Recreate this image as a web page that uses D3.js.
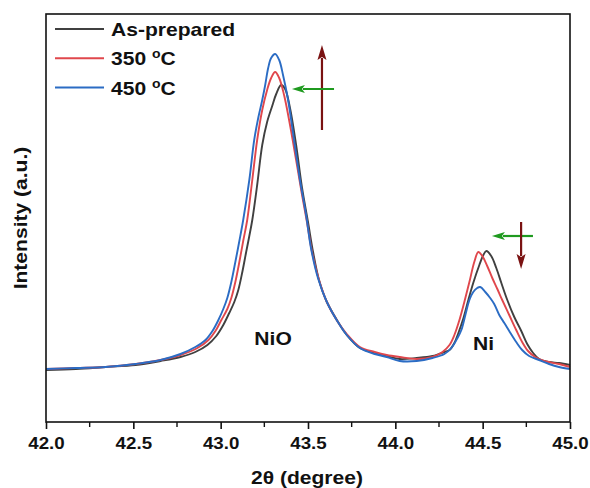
<!DOCTYPE html>
<html>
<head>
<meta charset="utf-8">
<script src="https://cdn.jsdelivr.net/npm/d3@7"></script>
<style>
  body { margin: 0; background: #fff; }
  text { font-family: "Liberation Sans", Arial, sans-serif; font-weight: bold; fill: #111; }
</style>
</head>
<body>
<div id="chart"></div>
<script>
// 2θ (degree), intensity (a.u.)
var asPrepared = [
  [42.000,570],[42.171,580],[42.342,600],[42.513,620],[42.656,660],[42.770,700],[42.855,750],
  [42.924,820],[42.975,910],[43.015,1020],[43.049,1140],[43.078,1250],[43.101,1370],[43.124,1550],
  [43.146,1750],[43.164,1910],[43.181,2070],
  [43.209,2420],[43.238,2820],[43.266,3050],[43.295,3210],[43.318,3330],[43.346,3420],[43.369,3380],
  [43.397,3190],[43.432,2820],[43.466,2390],[43.500,2050],[43.529,1750],[43.563,1470],[43.608,1250],
  [43.683,1020],[43.722,920],[43.797,790],[43.882,740],[43.951,710],[44.025,680],[44.122,690],
  [44.213,710],[44.281,750],[44.310,770],[44.338,840],[44.361,940],[44.390,1090],[44.418,1270],
  [44.446,1440],[44.481,1620],[44.504,1720],[44.521,1760],[44.549,1710],[44.578,1590],[44.607,1440],
  [44.641,1270],[44.681,1100],[44.721,960],[44.755,830],[44.789,740],[44.823,680],[44.880,650],
  [44.937,640],[45.000,620]
];
var annealed350 = [
  [42.000,580],[42.171,590],[42.342,600],[42.513,630],[42.656,670],[42.770,720],[42.867,790],
  [42.930,870],[42.970,960],[43.004,1070],[43.038,1180],[43.061,1290],[43.084,1450],[43.107,1650],
  [43.129,1860],[43.152,2070],
  [43.181,2470],[43.209,2870],[43.238,3170],[43.266,3370],[43.289,3490],[43.312,3550],[43.335,3490],
  [43.363,3320],[43.397,3020],[43.432,2670],[43.466,2320],[43.494,2050],[43.523,1750],[43.563,1470],
  [43.608,1250],[43.671,1050],[43.722,930],[43.797,800],[43.882,750],[43.951,720],[44.025,700],
  [44.122,680],[44.213,700],[44.270,750],[44.310,820],[44.338,920],[44.367,1070],[44.395,1250],
  [44.424,1450],[44.452,1650],[44.475,1750],[44.498,1710],[44.526,1610],[44.555,1490],[44.584,1380],
  [44.612,1270],[44.652,1120],[44.692,970],[44.726,850],[44.760,760],[44.800,700],[44.852,660],
  [44.937,630],[45.000,600]
];
var annealed450 = [
  [42.000,580],[42.171,590],[42.342,600],[42.513,630],[42.656,670],[42.770,730],[42.855,800],
  [42.913,870],[42.953,960],[42.987,1070],[43.015,1180],[43.038,1290],[43.061,1450],[43.084,1650],
  [43.107,1860],[43.129,2070],
  [43.164,2470],[43.192,2870],[43.215,3090],[43.238,3270],[43.255,3420],[43.272,3590],[43.289,3690],
  [43.312,3730],[43.335,3670],[43.357,3520],[43.386,3270],[43.420,2870],[43.454,2470],[43.489,2120],
  [43.517,1790],[43.557,1490],[43.608,1250],[43.671,1050],[43.722,920],[43.797,790],[43.882,730],
  [43.951,700],[44.025,660],[44.122,660],[44.213,690],[44.281,730],[44.321,790],[44.356,890],
  [44.378,970],[44.401,1120],[44.424,1270],[44.446,1350],[44.469,1390],[44.486,1400],[44.515,1350],
  [44.543,1290],[44.566,1230],[44.595,1120],[44.624,1040],[44.652,960],[44.692,850],[44.726,770],
  [44.766,710],[44.823,670],[44.880,630],[44.937,600],[45.000,580]
];

var seriesNames = ["As-prepared", "350", "450"];
var seriesColors = ["#404040", "#e0474c", "#2b6cc4"];
var majorTicks = [42.0, 42.5, 43.0, 43.5, 44.0, 44.5, 45.0];
var minorTicks = [42.25, 42.75, 43.25, 43.75, 44.25, 44.75];

var width = 590, height = 488;
var plotLeft = 46, plotRight = 570, plotTop = 14, plotBottom = 422;
var sx = 1.17; // glyphs in the figure are a bit wider than Arial

var svg = d3.select("#chart").append("svg")
    .attr("width", width)
    .attr("height", height);

var x = d3.scaleLinear().domain([42, 45]).range([plotLeft, plotRight]);
var y = d3.scaleLinear().domain([50, 4130]).range([plotBottom, plotTop]);

var line = d3.line()
    .x(function(d){ return x(d[0]); })
    .y(function(d){ return y(d[1]); })
    .curve(d3.curveCatmullRom);

var allSeries = [asPrepared, annealed350, annealed450];

svg.append("g")
    .selectAll("path")
    .data(allSeries)
    .enter()
        .append("path")
        .attr("d", function(d){ return line(d); })
        .attr("fill", "none")
        .attr("stroke", function(d, i){ return seriesColors[i]; })
        .attr("stroke-width", 1.9)
        .attr("stroke-linejoin", "round");

// frame
svg.append("rect")
    .attr("x", plotLeft).attr("y", plotTop)
    .attr("width", plotRight - plotLeft).attr("height", plotBottom - plotTop)
    .attr("fill", "none")
    .attr("stroke", "#111")
    .attr("stroke-width", 1.6);

// bottom axis
var xAxis = svg.append("g")
    .attr("transform", "translate(0," + plotBottom + ")")
    .call(d3.axisBottom(x).tickValues(majorTicks).tickFormat(d3.format(".1f"))
        .tickSize(7).tickPadding(9));
xAxis.select(".domain").remove();
xAxis.selectAll("line").attr("stroke", "#111").attr("stroke-width", 1.6);
xAxis.selectAll("text")
    .attr("font-size", 16)
    .attr("font-family", "Liberation Sans, Arial, sans-serif")
    .attr("font-weight", "bold")
    .attr("fill", "#111")
    .attr("transform", "scale(" + sx + ",1)");

svg.append("g")
    .selectAll("line")
    .data(minorTicks)
    .enter()
        .append("line")
        .attr("x1", function(d){ return x(d); })
        .attr("x2", function(d){ return x(d); })
        .attr("y1", plotBottom)
        .attr("y2", plotBottom + 5)
        .attr("stroke", "#111")
        .attr("stroke-width", 1.4);

function label(px, py, str, size, rot) {
    return svg.append("text")
        .attr("transform", "translate(" + px + "," + py + ")" + (rot ? " rotate(" + rot + ")" : "") + " scale(" + sx + ",1)")
        .attr("text-anchor", "middle")
        .attr("font-size", size)
        .text(str);
}

label(307, 484, "2θ (degree)", 18);
label(27, 218, "Intensity (a.u.)", 18, -90);

label(x(43.30), y(820), "NiO", 18);
label(x(44.505), y(770), "Ni", 18);

// legend
var legend = svg.append("g");
seriesNames.forEach(function(name, i){
    var ly = 29 + i * 29.3;
    legend.append("line")
        .attr("x1", 55).attr("x2", 104)
        .attr("y1", ly).attr("y2", ly)
        .attr("stroke", seriesColors[i])
        .attr("stroke-width", 2);
    var t = legend.append("text")
        .attr("transform", "translate(111," + (ly + 7) + ") scale(" + sx + ",1)")
        .attr("font-size", 18);
    if (i == 0) {
        t.text(name);
    } else {
        t.append("tspan").text(name + " ");
        t.append("tspan").attr("font-size", 12).attr("dy", -7).text("o");
        t.append("tspan").attr("dy", 7).text("C");
    }
});

// arrows (data coordinates)
function arrow(x1, y1, x2, y2, color, headLen, headW) {
    var ax = x(x1), ay = y(y1), bx = x(x2), by = y(y2);
    var dx = bx - ax, dy = by - ay, len = Math.sqrt(dx*dx + dy*dy);
    var ux = dx / len, uy = dy / len;
    var baseX = bx - ux * headLen, baseY = by - uy * headLen;
    svg.append("line")
        .attr("x1", ax).attr("y1", ay)
        .attr("x2", baseX + ux * 2).attr("y2", baseY + uy * 2)
        .attr("stroke", color).attr("stroke-width", 2.2);
    var pts = [
        [bx, by],
        [baseX - uy * headW / 2, baseY + ux * headW / 2],
        [baseX + ux * 3, baseY + uy * 3],
        [baseX + uy * headW / 2, baseY - ux * headW / 2]
    ];
    svg.append("polygon")
        .attr("points", pts.map(function(p){ return p.join(","); }).join(" "))
        .attr("fill", color);
}

arrow(43.58, 2970, 43.58, 3820, "#7a1212", 15, 9);
arrow(43.649, 3380, 43.408, 3380, "#1f9a1f", 13, 8);
arrow(44.788, 1910, 44.553, 1910, "#1f9a1f", 13, 8);
arrow(44.72, 2050, 44.72, 1580, "#7a1212", 15, 9);
</script>
</body>
</html>
